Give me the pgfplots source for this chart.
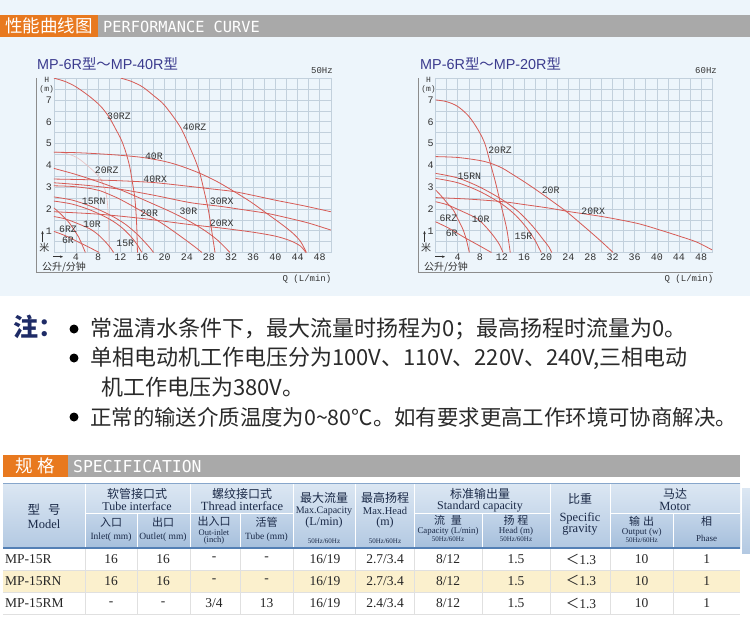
\documentclass[border=0pt]{standalone}
\usepackage{fontspec}
\usepackage{pgfplots}
\pgfplotsset{compat=1.18}
\usetikzlibrary{arrows.meta}
\setmainfont{Liberation Serif}
\newfontfamily\cjk{Noto Sans CJK SC}
\newfontfamily\sans{Liberation Sans}
\newfontfamily\mono{Liberation Mono}
\newfontfamily\dmono{DejaVu Sans Mono}
\newcommand\fs[1]{\fontsize{#1}{#1}\selectfont}
\definecolor{bgblue}{HTML}{EDF5FB}
\definecolor{gridc}{HTML}{C2D0DC}
\definecolor{curvec}{HTML}{D65A55}
\definecolor{faintc}{HTML}{E8BDBD}
\definecolor{labc}{HTML}{333333}
\definecolor{framec}{HTML}{8C8C8C}
\definecolor{titlec}{HTML}{3B3B8E}
\definecolor{orangec}{HTML}{E8791F}
\definecolor{barc}{HTML}{A9A9A9}
\definecolor{notec}{HTML}{1E2B66}
\definecolor{textc}{HTML}{2A2A2A}
\definecolor{hdtext}{HTML}{1B2A48}
\definecolor{hdtop}{HTML}{DCE7F3}
\definecolor{hdbot}{HTML}{B3C9E2}
\definecolor{hdtwotop}{HTML}{C3D5E9}
\definecolor{hdtwobot}{HTML}{A6BFDC}
\definecolor{hdline}{HTML}{5480B5}
\definecolor{rowy}{HTML}{FBF0CD}
\definecolor{rowline}{HTML}{E0E0E0}
\pgfplotsset{pump/.style={
  scale only axis, width=277pt, height=174.4pt, anchor=south west,
  xmin=0,xmax=50,ymin=0,ymax=8, clip=true,
  xtick={4,8,...,48}, xticklabels={4,8,12,16,20,24,28,32,36,40,44,48},
  ytick={1,2,...,7}, yticklabels={1,2,3,4,5,6,7},
  minor xtick={0,2,...,50}, minor ytick={0,0.5,...,8},
  grid=both,
  major grid style={draw=gridc, line width=0.55pt},
  minor grid style={draw=gridc, line width=0.55pt},
  axis line style={draw=gridc, line width=0.55pt},
  major tick length=0pt, minor tick length=0pt,
  tick style={draw=none},
  ticklabel style={font=\mono\fs{10}, text=labc, inner sep=0pt},
  xticklabel style={anchor=center, yshift=-5pt},
  yticklabel style={anchor=center, xshift=-5pt},
}}
\tikzset{curve/.style={no marks, line width=0.8pt, draw=curvec, smooth, tension=0.5},
  faint/.style={no marks, line width=0.6pt, draw=faintc, smooth, tension=0.5},
  lbl/.style={font=\mono\fs{9.8}, text=labc, inner sep=0pt}}
\begin{document}
\begin{tikzpicture}
\useasboundingbox (0,0) rectangle (750pt,-633pt);
\begin{scope}[x=1pt,y=-1pt]
\fill[white] (0,0) rectangle (750,633);
\fill[bgblue] (0,0) rectangle (750,296);
% header bar
\fill[orangec] (0,15) rectangle (98,37);
\fill[barc] (98,15) rectangle (750,37);
\node[text=white, font=\cjk\fs{17.5}] at (49,26) {性能曲线图};
\node[text=white, font=\dmono\fs{15.3}, anchor=west, inner sep=0] at (103,26.5) {PERFORMANCE CURVE};
% titles
\node[anchor=west, inner sep=0, text=titlec] at (37,64) {\sans\fs{14.4}MP-6R{\cjk 型}{\cjk ～}MP-40R{\cjk 型}};
\node[anchor=west, inner sep=0, text=titlec] at (420,64) {\sans\fs{14.4}MP-6R{\cjk 型}{\cjk ～}MP-20R{\cjk 型}};
\node[anchor=east, inner sep=0, font=\mono\fs{9}, text=labc] at (333,71) {50Hz};
\node[anchor=east, inner sep=0, font=\mono\fs{9}, text=labc] at (717,71) {60Hz};
% left chart decorations
\node[font=\mono\fs{8}, text=labc] at (46.7,80) {H};
\node[font=\mono\fs{8}, text=labc] at (46.7,89.3) {(m)};
\draw[labc, line width=0.6pt, -{Stealth[length=3pt,width=2.5pt]}] (42.5,242) -- (42.5,231);
\node[font=\cjk\fs{10}, text=labc] at (44.3,247.5) {米};
\draw[labc, line width=0.6pt, -{Stealth[length=3pt,width=2.5pt]}] (53,256.7) -- (63,256.7);
\node[font=\cjk\fs{10}, text=labc] at (64,266.7) {公升/分钟};
\draw[framec, line width=1.3pt] (36.7,78) -- (36.7,272.3) -- (330,272.3);
\node[font=\mono\fs{9}, text=labc, anchor=east, inner sep=0] at (331.5,279.5) {Q (L/min)};
% right chart decorations
\node[font=\mono\fs{8}, text=labc] at (428.5,80) {H};
\node[font=\mono\fs{8}, text=labc] at (428.5,89.3) {(m)};
\draw[labc, line width=0.6pt, -{Stealth[length=3pt,width=2.5pt]}] (424.5,242) -- (424.5,231);
\node[font=\cjk\fs{10}, text=labc] at (426,247.5) {米};
\draw[labc, line width=0.6pt, -{Stealth[length=3pt,width=2.5pt]}] (435,256.7) -- (445,256.7);
\node[font=\cjk\fs{10}, text=labc] at (446,266.7) {公升/分钟};
\draw[framec, line width=1.3pt] (418.3,78) -- (418.3,272.3) -- (712.7,272.3);
\node[font=\mono\fs{9}, text=labc, anchor=east, inner sep=0] at (713.5,279.5) {Q (L/min)};
% notes
\node[anchor=west, inner sep=0, text=notec, font=\cjk\bfseries\fs{25}] at (13,327) {注：};
\fill[black] (74,329) circle (4.5);
\fill[black] (74,358) circle (4.5);
\fill[black] (74,417) circle (4.5);
\node[anchor=west, inner sep=0, text=textc, font=\cjk\fs{22}] at (90,329) {常温清水条件下，最大流量时扬程为0；最高扬程时流量为0。};
\node[anchor=west, inner sep=0, text=textc, font=\cjk\fs{22}] at (90,358) {单相电动机工作电压分为100V、110V、220V、240V,三相电动};
\node[anchor=west, inner sep=0, text=textc, font=\cjk\fs{22}] at (101,387) {机工作电压为380V。};
\node[anchor=west, inner sep=0, text=textc, font=\cjk\fs{21.4}] at (90,417) {正常的输送介质温度为0\textasciitilde 80℃。如有要求更高工作环境可协商解决。};
% spec bar
\fill[orangec] (3,455) rectangle (68,477);
\fill[barc] (68,455) rectangle (740,477);
\node[text=white, font=\cjk\fs{17.5}] at (35.5,466) {规\hspace{5pt}格};
\node[text=white, font=\dmono\fs{16.4}, anchor=west, inner sep=0] at (73,466.5) {SPECIFICATION};
% table header
\shade[top color=hdtop, bottom color=hdbot] (3,483) rectangle (740,548);
\shade[top color=hdtwotop, bottom color=hdtwobot] (85,513) rectangle (293,548);
\shade[top color=hdtwotop, bottom color=hdtwobot] (414,513) rectangle (550,548);
\shade[top color=hdtwotop, bottom color=hdtwobot] (610,513) rectangle (740,548);
\shade[top color=hdtop, bottom color=hdbot] (742,488) rectangle (750,553);
\draw[white, line width=0.8pt] (85,483)--(85,548) (190,483)--(190,548) (293,483)--(293,548) (355,483)--(355,548) (414,483)--(414,548) (550,483)--(550,548) (610,483)--(610,548);
\draw[white, line width=0.8pt] (137,513)--(137,548) (240,513)--(240,548) (482,513)--(482,548) (673,513)--(673,548);
\draw[white, line width=0.8pt] (85,513)--(293,513) (414,513)--(550,513) (610,513)--(740,513);
\draw[hdline!70, line width=1pt] (3,483)--(740,483);
\draw[hdline, line width=1.5pt] (3,548)--(740,548);
% rows
\fill[rowy] (3,570) rectangle (740,592);
\draw[rowline, line width=0.6pt] (3,570)--(740,570) (3,592)--(740,592) (3,614)--(740,614);
\foreach \xx in {85,137,190,240,293,355,414,482,550,610,673} {\draw[rowline, line width=0.6pt] (\xx,549)--(\xx,614);}
% header texts
\begin{scope}[every node/.style={text=hdtext, inner sep=0}]
\node[font=\cjk\fs{12.5}] at (44,510) {型\hspace{8pt}号};
\node[font=\fs{12.5}] at (44,524) {Model};
\node[font=\cjk\fs{12}] at (137,493.5) {软管接口式};
\node[font=\fs{12}] at (137,506.5) {Tube interface};
\node[font=\cjk\fs{11}] at (111,522) {入口};
\node[font=\fs{9.5}] at (111,537) {Inlet( mm)};
\node[font=\cjk\fs{11}] at (163,522) {出口};
\node[font=\fs{9.5}] at (163,537) {Outlet( mm)};
\node[font=\cjk\fs{12}] at (242,493.5) {螺纹接口式};
\node[font=\fs{12.5}] at (242,506.5) {Thread interface};
\node[font=\cjk\fs{11}] at (214,521) {出入口};
\node[font=\fs{8.5}] at (214,532.5) {Out-inlet};
\node[font=\fs{8.5}] at (214,540.5) {(inch)};
\node[font=\cjk\fs{11}] at (266.5,522) {活管};
\node[font=\fs{9.5}] at (266.5,537) {Tube (mm)};
\node[font=\cjk\fs{12}] at (324,498) {最大流量};
\node[font=\fs{10}] at (324,511) {Max.Capacity};
\node[font=\fs{12}] at (324,522.5) {(L/min)};
\node[font=\fs{7}] at (324,541.5) {50Hz/60Hz};
\node[font=\cjk\fs{12}] at (385,498) {最高扬程};
\node[font=\fs{10.5}] at (385,511) {Max.Head};
\node[font=\fs{12}] at (385,522.5) {(m)};
\node[font=\fs{7}] at (385,541.5) {50Hz/60Hz};
\node[font=\cjk\fs{12}] at (480,493.5) {标准输出量};
\node[font=\fs{12}] at (480,506.5) {Standard capacity};
\node[font=\cjk\fs{11}] at (448,520.5) {流\hspace{6pt}量};
\node[font=\fs{8.8}] at (448,531.5) {Capacity (L/min)};
\node[font=\fs{7}] at (448,539.5) {50Hz/60Hz};
\node[font=\cjk\fs{11}] at (516,520.5) {扬\hspace{3pt}程};
\node[font=\fs{9}] at (516,531.5) {Head (m)};
\node[font=\fs{7}] at (516,539.5) {50Hz/60Hz};
\node[font=\cjk\fs{12}] at (580,499) {比重};
\node[font=\fs{12.5}] at (580,518) {Specific};
\node[font=\fs{12.5}] at (580,530) {gravity};
\node[font=\cjk\fs{12}] at (675,493.5) {马达};
\node[font=\fs{12.5}] at (675,506.5) {Motor};
\node[font=\cjk\fs{11}] at (641.7,521) {输\hspace{3pt}出};
\node[font=\fs{9}] at (641.7,532) {Output (w)};
\node[font=\fs{7}] at (641.7,540) {50Hz/60Hz};
\node[font=\cjk\fs{11}] at (706.7,521.5) {相};
\node[font=\fs{9}] at (706.7,538) {Phase};
\end{scope}
% data
\begin{scope}[every node/.style={text=black!85, inner sep=0, font=\fs{13.5}}]
\node[anchor=west] at (5,559) {MP-15R};
\node[anchor=west] at (5,580.7) {MP-15RN};
\node[anchor=west] at (5,603.3) {MP-15RM};
\node at (111,559) {16}; \node at (163,559) {16}; \node at (214,559) {-}; \node at (266.5,559) {-};
\node at (111,580.7) {16}; \node at (163,580.7) {16}; \node at (214,580.7) {-}; \node at (266.5,580.7) {-};
\node at (111,603.3) {-}; \node at (163,603.3) {-}; \node at (214,603.3) {3/4}; \node at (266.5,603.3) {13};
\node at (325,559) {16/19}; \node at (385,559) {2.7/3.4}; \node at (448,559) {8/12}; \node at (516,559) {1.5};
\node at (325,580.7) {16/19}; \node at (385,580.7) {2.7/3.4}; \node at (448,580.7) {8/12}; \node at (516,580.7) {1.5};
\node at (325,603.3) {16/19}; \node at (385,603.3) {2.4/3.4}; \node at (448,603.3) {8/12}; \node at (516,603.3) {1.5};
\node at (581,559) {{\cjk ＜}1.3}; \node at (641.7,559) {10}; \node at (706.7,559) {1};
\node at (581,580.7) {{\cjk ＜}1.3}; \node at (641.7,580.7) {10}; \node at (706.7,580.7) {1};
\node at (581,603.3) {{\cjk ＜}1.3}; \node at (641.7,603.3) {10}; \node at (706.7,603.3) {1};
\end{scope}
\end{scope}

% ===== 50 Hz chart =====
\begin{axis}[pump, at={(53.8pt,-252.5pt)}]
\addplot[faint] coordinates {(0,4.62)(2,4.56)(4,4.38)(5.3,4.15)(7,3.78)(8.3,3.42)(9.1,3.0)(9.6,2.45)(9.85,1.6)(9.95,0.8)(10,0)};
\addplot[curve] coordinates {(0,8.0)(2,7.85)(4,7.6)(6.5,7.15)(8.5,6.7)(10,6.2)(11.2,5.65)(12.2,5.16)(13,4.6)(13.7,3.94)(14.2,3.2)(14.6,2.56)(14.85,1.8)(15.0,1.0)(15.1,0)};
\addplot[curve] coordinates {(12.1,8.0)(14,7.85)(16,7.6)(18,7.2)(20,6.75)(22.8,5.77)(24.5,4.85)(25.6,4.2)(26.4,3.6)(27.2,2.75)(27.9,1.95)(28.5,1.0)(29.1,0)};
\addplot[curve] coordinates {(0,4.6)(4,4.58)(8,4.53)(12,4.46)(16,4.36)(20,4.18)(23,3.96)(26.4,3.63)(29.5,3.25)(32.4,2.82)(35.5,2.33)(38.4,1.8)(41,1.32)(43,0.92)(44.5,0.52)(45.6,0)};
\addplot[curve] coordinates {(0,3.37)(6,3.34)(12,3.29)(18,3.21)(24.6,3.03)(28,2.93)(32.4,2.8)(36,2.62)(40,2.4)(45,2.15)(50,1.87)};
\addplot[curve] coordinates {(0,3.2)(6,3.08)(12,2.9)(18,2.63)(24.6,2.29)(30,2.12)(34,1.97)(38.4,1.8)(42,1.6)(46,1.35)(50,1.03)};
\addplot[curve] coordinates {(0,3.86)(4,3.58)(8.3,3.22)(12,2.88)(14.6,2.6)(18,2.22)(21,1.88)(24,1.5)(27,1.05)(29.5,0.58)(31.8,0)};
\addplot[curve] coordinates {(0,3.06)(3.3,3.03)(6.7,2.93)(8.3,2.84)(11.25,2.53)(13.3,2.26)(15.4,1.96)(17.5,1.65)(19.75,1.3)(21.7,0.96)(23.5,0.63)(25.2,0.31)(26.75,0)};
\addplot[curve] coordinates {(0,2.55)(3.4,2.4)(6.9,2.1)(10.3,1.7)(12.9,1.3)(15,0.85)(16.7,0.4)(17.5,0.17)(18,0)};
\addplot[curve] coordinates {(0,2.36)(3.33,2.22)(6.67,1.94)(10,1.54)(12.1,1.18)(13.75,0.78)(15,0.38)(15.5,0.17)(15.9,0)};
\addplot[curve] coordinates {(0,1.87)(8,1.76)(16,1.56)(24.6,1.28)(30.3,1.12)(36,0.93)(40,0.75)(42.6,0.55)(44.5,0.3)(45.5,0)};
\addplot[curve] coordinates {(0,1.65)(1.8,1.56)(3.5,1.41)(6.4,1.1)(7.9,0.84)(9.2,0.52)(10.1,0.26)(10.8,0)};
\addplot[curve] coordinates {(0,2.05)(0.9,1.85)(1.8,1.63)(2.8,1.36)(3.6,1.06)(4.5,0.7)(5.1,0.36)(5.7,0)};
\addplot[curve] coordinates {(0,0.97)(2.1,0.77)(4.2,0.51)(6.2,0.26)(8.2,0)};
\node[lbl] at (axis cs:11.76,6.23) {30RZ};
\node[lbl] at (axis cs:25.4,5.73) {40RZ};
\node[lbl] at (axis cs:18.07,4.43) {40R};
\node[lbl] at (axis cs:9.54,3.75) {20RZ};
\node[lbl] at (axis cs:18.3,3.37) {40RX};
\node[lbl] at (axis cs:30.3,2.33) {30RX};
\node[lbl] at (axis cs:7.19,2.36) {15RN};
\node[lbl] at (axis cs:17.2,1.8) {20R};
\node[lbl] at (axis cs:24.3,1.87) {30R};
\node[lbl] at (axis cs:30.3,1.34) {20RX};
\node[lbl] at (axis cs:6.9,1.29) {10R};
\node[lbl] at (axis cs:2.56,1.06) {6RZ};
\node[lbl] at (axis cs:2.56,0.57) {6R};
\node[lbl] at (axis cs:12.9,0.42) {15R};
\end{axis}

% ===== 60 Hz chart =====
\begin{axis}[pump, width=276.5pt, at={(435.6pt,-252.5pt)}]
\addplot[curve] coordinates {(0,7.0)(2,6.92)(4,6.7)(6,6.25)(7.7,5.62)(8.9,5.0)(9.9,4.09)(10.8,3.25)(11.6,2.41)(12.3,1.7)(12.9,1.03)(13.5,0)};
\addplot[curve] coordinates {(0,4.4)(4,4.36)(8,4.22)(10,4.09)(12,3.88)(13.5,3.65)(16,3.25)(18.5,2.82)(21,2.37)(23.7,1.87)(26,1.38)(28.2,0.9)(30.2,0.45)(32.1,0)};
\addplot[curve] coordinates {(0,2.52)(6,2.45)(12.2,2.33)(16,2.2)(20.7,2.03)(24.3,1.87)(30.3,1.64)(36.4,1.34)(40.6,1.03)(44.2,0.74)(47.2,0.48)(50,0.12)};
\addplot[curve] coordinates {(0,3.63)(4,3.42)(8,3.0)(12,2.43)(15,1.87)(17.5,1.22)(19.5,0.58)(20.5,0.25)(21,0)};
\addplot[curve] coordinates {(0,3.4)(4,3.2)(8,2.8)(12,2.22)(14.5,1.7)(16.5,1.12)(18,0.55)(18.6,0.25)(19.1,0)};
\addplot[curve] coordinates {(0,2.33)(2,2.2)(4,1.98)(7.4,1.57)(9,1.2)(10.5,0.75)(11.5,0.38)(12.2,0)};
\addplot[curve] coordinates {(0,2.87)(1,2.6)(2,2.3)(3.2,1.95)(4,1.55)(5,1.03)(5.6,0.55)(6.1,0)};
\addplot[curve] coordinates {(0,1.41)(2.5,1.1)(5,0.72)(7.5,0.37)(10.1,0)};
\node[lbl] at (axis cs:11.65,4.7) {20RZ};
\node[lbl] at (axis cs:20.8,2.87) {20R};
\node[lbl] at (axis cs:6.1,3.48) {15RN};
\node[lbl] at (axis cs:28.5,1.87) {20RX};
\node[lbl] at (axis cs:2.3,1.57) {6RZ};
\node[lbl] at (axis cs:8.15,1.52) {10R};
\node[lbl] at (axis cs:2.9,0.88) {6R};
\node[lbl] at (axis cs:15.9,0.72) {15R};
\end{axis}
\end{tikzpicture}
\end{document}
